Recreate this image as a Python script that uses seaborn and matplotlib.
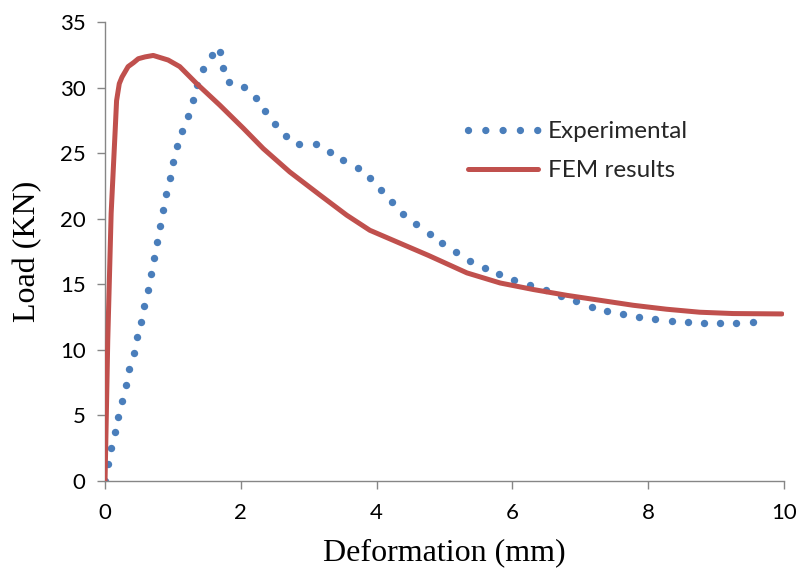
import matplotlib
matplotlib.use("Agg")
import matplotlib.pyplot as plt
from matplotlib.lines import Line2D
import seaborn as sns
import pandas as pd

# Experimental load-deformation readings
exp_deformation = [0, 0.05, 0.09, 0.14, 0.19, 0.25, 0.31, 0.36, 0.42, 0.47,
                   0.53, 0.58, 0.63, 0.68, 0.72, 0.77, 0.81, 0.85, 0.90, 0.95,
                   1.00, 1.06, 1.14, 1.22, 1.30, 1.35, 1.45, 1.57, 1.70, 1.74,
                   1.82, 2.05, 2.22, 2.36, 2.50, 2.66, 2.86, 3.10, 3.31, 3.51,
                   3.73, 3.91, 4.07, 4.23, 4.39, 4.58, 4.78, 4.97, 5.17, 5.38,
                   5.59, 5.81, 6.03, 6.26, 6.49, 6.71, 6.94, 7.17, 7.40, 7.63,
                   7.87, 8.10, 8.35, 8.58, 8.82, 9.06, 9.30, 9.54]
exp_load = [0, 1.27, 2.49, 3.71, 4.91, 6.13, 7.32, 8.52, 9.74, 10.96,
            12.16, 13.38, 14.60, 15.79, 17.01, 18.23, 19.45, 20.67, 21.89, 23.11,
            24.31, 25.53, 26.70, 27.84, 29.04, 30.18, 31.38, 32.47, 32.72, 31.53,
            30.39, 30.05, 29.19, 28.20, 27.21, 26.27, 25.66, 25.66, 25.12, 24.44,
            23.88, 23.09, 22.17, 21.26, 20.34, 19.56, 18.87, 18.16, 17.45, 16.81,
            16.28, 15.79, 15.36, 14.98, 14.57, 14.11, 13.71, 13.30, 12.97, 12.72,
            12.51, 12.36, 12.20, 12.11, 12.08, 12.08, 12.08, 12.11]

# Finite element model response
fem_deformation = [0, 0.02, 0.04, 0.09, 0.15, 0.17, 0.21, 0.25, 0.34, 0.42,
                   0.49, 0.59, 0.71, 0.93, 1.10, 1.35, 1.69, 2.04, 2.33, 2.72,
                   3.17, 3.56, 3.90, 4.30, 4.76, 5.33, 5.82, 6.31, 6.80, 7.29,
                   7.78, 8.27, 8.76, 9.25, 9.97]
fem_load = [0, 5.3, 10.7, 20.4, 26.8, 29.0, 30.3, 30.8, 31.6, 31.9,
            32.2, 32.34, 32.45, 32.1, 31.6, 30.3, 28.66, 26.88, 25.35, 23.57,
            21.79, 20.27, 19.12, 18.23, 17.21, 15.87, 15.10, 14.60, 14.16, 13.78,
            13.40, 13.10, 12.87, 12.77, 12.74]

x_ticks = [0, 2, 4, 6, 8, 10]
y_ticks = [0, 5, 10, 15, 20, 25, 30, 35]
series_names = ["Experimental", "FEM results"]

exp_df = pd.DataFrame({"Deformation": exp_deformation, "Load": exp_load})
fem_df = pd.DataFrame({"Deformation": fem_deformation, "Load": fem_load})

sns.set_theme(style="white")
plt.rcParams["font.family"] = ["Lato", "DejaVu Sans"]

DPI = 100
fig = plt.figure(figsize=(8.03, 5.76), dpi=DPI)
ax = fig.add_axes([0.1308, 0.1649, 0.9763 - 0.1308, 0.9618 - 0.1649])

blue = "#4A7EBB"
red = "#C0504D"

# Experimental series: round dots at each reading
sns.lineplot(data=exp_df, x="Deformation", y="Load", ax=ax, color=blue,
             linestyle="none", marker="o", markersize=5.3,
             markeredgewidth=0, sort=False, zorder=2, legend=False)
# FEM series: solid line
sns.lineplot(data=fem_df, x="Deformation", y="Load", ax=ax, color=red,
             lw=3.6, solid_capstyle="round", solid_joinstyle="round",
             sort=False, zorder=3, legend=False)

ax.set_xlim(0, 10)
ax.set_ylim(0, 35)
ax.set_xticks(x_ticks)
ax.set_yticks(y_ticks)
ax.set_xticklabels([str(t) for t in x_ticks])
ax.set_yticklabels([str(t) for t in y_ticks])

spine_color = "#868686"
for side in ["top", "right"]:
    ax.spines[side].set_visible(False)
for side in ["left", "bottom"]:
    ax.spines[side].set_color(spine_color)
    ax.spines[side].set_linewidth(1.0)

ax.tick_params(axis="both", which="major", direction="out", length=6,
               width=1.0, color=spine_color, labelsize=16, labelcolor="black",
               left=True, bottom=True)
ax.tick_params(axis="x", pad=10)
ax.tick_params(axis="y", pad=8)

serif = ["Liberation Serif", "DejaVu Serif"]
ax.set_xlabel("Deformation (mm)", fontsize=23, family=serif, color="black",
              labelpad=11)
ax.set_ylabel("Load (KN)", fontsize=23, family=serif, color="black",
              labelpad=13)

handles = [
    Line2D([], [], color=blue, lw=5.3, linestyle=(0, (0.001, 2.35)),
           dash_capstyle="round"),
    Line2D([], [], color=red, lw=3.6, solid_capstyle="round"),
]
ax.legend(handles, series_names, loc="upper left",
          bbox_to_anchor=(0.52, 0.805), frameon=False, fontsize=17.5,
          handlelength=2.87, handletextpad=0.42, labelspacing=0.75,
          borderaxespad=0)

fig.savefig("out.png", dpi=DPI)
